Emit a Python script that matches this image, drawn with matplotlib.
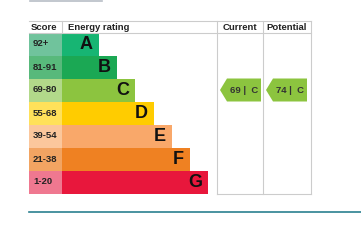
import matplotlib.pyplot as plt
from matplotlib.patches import Rectangle, Polygon

plt.rcParams["font.family"] = ["Liberation Sans", "DejaVu Sans"]

# EPC data
bands = ["A", "B", "C", "D", "E", "F", "G"]
ranges = ["92+", "81-91", "69-80", "55-68", "39-54", "21-38", "1-20"]
lows = [92, 81, 69, 55, 39, 21, 1]
band_colors = ["#17b573", "#1ba854", "#8cc43f", "#ffcc00", "#f9a86a", "#ef8122", "#e8173c"]
score_colors = ["#70c39c", "#58b97b", "#b2d98a", "#ffe15a", "#fbc79c", "#f2a462", "#ef7890"]
current = 69
potential = 74

# layout in pixels
W, H = 361, 248
left, score_w = 29, 33
top, head_h, row_h = 21, 11.5, 23
col_cur, col_pot, col_end = 217, 263, 311
step = 18.3
grid = "#cccccc"


def band_of(score):
    for i, lo in enumerate(lows):
        if score >= lo:
            return i
    return len(lows) - 1


fig = plt.figure(figsize=(W / 100, H / 100), dpi=100)
ax = fig.add_axes([0, 0, 1, 1])
ax.set_xlim(0, W)
ax.set_ylim(H, 0)
ax.axis("off")

y0 = top + head_h
for i, (b, r) in enumerate(zip(bands, ranges)):
    y = y0 + i * row_h
    ax.add_patch(Rectangle((left, y), score_w, row_h, color=score_colors[i], lw=0))
    x_end = left + score_w + step * (i + 2)
    ax.add_patch(Rectangle((left + score_w, y), x_end - left - score_w, row_h,
                           color=band_colors[i], lw=0))
    ax.text(left + 4, y + row_h / 2, r, fontsize=6.8, fontweight="bold",
            color="#222222", va="center", ha="left")
    ax.text(x_end - 6, y + row_h / 2 + 0.5, b, fontsize=13, fontweight="bold",
            color="#111111", va="center", ha="right")

bottom = y0 + len(bands) * row_h

# table lines
ax.plot([left, col_end], [top, top], color=grid, lw=0.8)
ax.plot([left, col_end], [y0, y0], color=grid, lw=0.8)
ax.plot([col_cur, col_end], [bottom, bottom], color=grid, lw=0.8)
for x in [left + score_w, col_cur, col_pot, col_end]:
    ax.plot([x, x], [top, bottom if x != left + score_w else y0], color=grid, lw=0.8)

ax.text(left + 2, top + head_h / 2 + 0.5, "Score", fontsize=6.8, fontweight="bold",
        va="center", ha="left", color="#222222")
ax.text(left + score_w + 6, top + head_h / 2 + 0.5, "Energy rating", fontsize=6.8,
        fontweight="bold", va="center", ha="left", color="#222222")
ax.text((col_cur + col_pot) / 2, top + head_h / 2 + 0.5, "Current", fontsize=6.8,
        fontweight="bold", va="center", ha="center", color="#222222")
ax.text((col_pot + col_end) / 2, top + head_h / 2 + 0.5, "Potential", fontsize=6.8,
        fontweight="bold", va="center", ha="center", color="#222222")

# arrows
for val, x0, x1 in [(current, col_cur + 3, col_pot - 2), (potential, col_pot + 3, col_end - 4)]:
    i = band_of(val)
    y = y0 + i * row_h
    tip = 7
    pts = [(x0, y + row_h / 2), (x0 + tip, y), (x1, y), (x1, y + row_h), (x0 + tip, y + row_h)]
    ax.add_patch(Polygon(pts, closed=True, color=band_colors[i], lw=0))
    ax.text((x0 + tip + x1) / 2, y + row_h / 2 + 0.5, f"{val} |  {bands[i]}",
            fontsize=6.8, fontweight="bold", color="#333333", va="center", ha="center")

# decorations
ax.plot([30, 102], [0.6, 0.6], color="#b7bec6", lw=1.2)
ax.plot([left, W], [212, 212], color="#2b8090", lw=1.2)

plt.savefig("out.png", dpi=100)
